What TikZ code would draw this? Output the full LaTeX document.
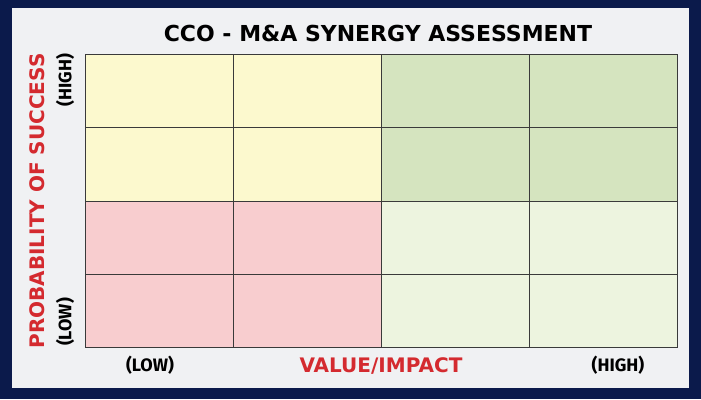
\documentclass[tikz,border=0pt]{standalone}
\usepackage{fontspec}
\setmainfont{Fira Sans}
\newfontfamily\headfont{DejaVu Sans}
\usetikzlibrary{positioning}
\definecolor{frame}{HTML}{0B1A4B}
\definecolor{panel}{HTML}{F0F1F3}
\definecolor{gridline}{HTML}{3A3A3A}
\definecolor{cellY}{HTML}{FCF9CE}
\definecolor{cellG}{HTML}{D5E4BF}
\definecolor{cellL}{HTML}{EDF4DF}
\definecolor{cellP}{HTML}{F8CDCF}
\definecolor{axisred}{HTML}{D42A2F}

\begin{document}
\begin{tikzpicture}[
		x=1pt,y=-1pt,
		cell/.style={
			draw=gridline,
			line width=0.8pt,
			minimum width=148pt,
			minimum height=73.25pt,
			inner sep=0pt,
			anchor=north west
		},
		title/.style={
			font=\headfont\bfseries\fontsize{22}{24}\selectfont,
			inner sep=0pt
		},
		axis/.style={
			font=\headfont\bfseries\fontsize{20}{22}\selectfont,
			text=axisred,
			inner sep=0pt
		},
		level/.style={
			font=\bfseries\fontsize{18}{20}\selectfont,
			inner sep=0pt
		}
		]
		
		\fill[frame] (0,0) rectangle (701,399);
		\fill[panel] (12,8) rectangle (689,388);
		
		% grid of cells
		\foreach \r/\c/\col in {0/0/cellY,0/1/cellY,0/2/cellG,0/3/cellG,
			1/0/cellY,1/1/cellY,1/2/cellG,1/3/cellG,
			2/0/cellP,2/1/cellP,2/2/cellL,2/3/cellL,
			3/0/cellP,3/1/cellP,3/2/cellL,3/3/cellL}
		\node[cell, fill=\col] (c\r\c) at (85+148*\c, 54+73.25*\r) {};
		
		\node[title] (head) at (378,33) {CCO - M\&A SYNERGY ASSESSMENT};
		
		\node[axis, rotate=90] (yaxis) at (37,201) {PROBABILITY OF SUCCESS};
		\node[level, rotate=90] (yhigh) at (65,80) {(HIGH)};
		\node[level, rotate=90] (ylow) at (65,322) {(LOW)};
		
		\node[axis] (xaxis) at (381,366) {VALUE/IMPACT};
		\node[level] (xlow) at (150,365) {(LOW)};
		\node[level] (xhigh) at (618,365) {(HIGH)};
		
		\end{tikzpicture}
\end{document}
